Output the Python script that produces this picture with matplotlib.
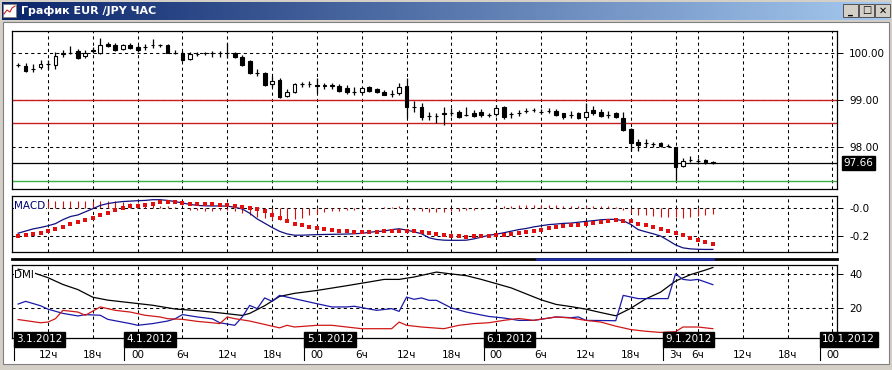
import numpy as np
import matplotlib
matplotlib.use("Agg")
import matplotlib.pyplot as plt
from matplotlib.colors import LinearSegmentedColormap
from matplotlib.patches import Rectangle
from matplotlib.transforms import blended_transform_factory

# ---- data (hourly candles, x = candle index, 0 = 3.1 12:00) ----
idx = np.arange(-4, 90)
opens = [99.75, 99.72, 99.67, 99.70, 99.76, 99.75, 99.98, 100.00, 100.05, 99.94,
         100.05, 99.99, 100.19, 100.17, 100.08, 100.17, 100.12, 100.12, 100.17, 100.17,
         100.17, 100.01, 100.01, 99.87, 99.98, 99.99, 99.99, 99.99, 99.99, 100.01,
         99.92, 99.82, 99.58, 99.58, 99.34, 99.43, 99.09, 99.18, 99.34, 99.34,
         99.32, 99.30, 99.31, 99.30, 99.25, 99.18, 99.16, 99.27, 99.23, 99.18,
         99.12, 99.14, 99.30, 98.86, 98.86, 98.66, 98.65, 98.70, 98.73, 98.75,
         98.68, 98.73, 98.75, 98.68, 98.70, 98.86, 98.70, 98.72, 98.77, 98.78,
         98.75, 98.76, 98.77, 98.72, 98.68, 98.72, 98.63, 98.79, 98.75, 98.68,
         98.72, 98.61, 98.38, 98.11, 98.08, 98.06, 98.08, 98.02, 98.01, 97.60,
         97.72, 97.71, 97.72, 97.68]
highs = [99.78, 99.78, 99.77, 99.85, 99.85, 100.03, 100.06, 100.15, 100.08, 100.06,
         100.12, 100.31, 100.24, 100.21, 100.20, 100.22, 100.17, 100.20, 100.29, 100.20,
         100.19, 100.06, 100.05, 100.03, 100.03, 100.03, 100.05, 100.05, 100.21, 100.03,
         99.96, 99.85, 99.67, 99.60, 99.50, 99.46, 99.23, 99.37, 99.39, 99.41,
         99.46, 99.37, 99.37, 99.35, 99.32, 99.27, 99.28, 99.30, 99.26, 99.21,
         99.21, 99.36, 99.46, 98.97, 98.94, 98.75, 98.73, 98.86, 98.82, 98.79,
         98.86, 98.79, 98.80, 98.73, 98.89, 98.87, 98.75, 98.79, 98.82, 98.83,
         98.80, 98.82, 98.80, 98.73, 98.77, 98.75, 98.93, 98.87, 98.80, 98.77,
         98.75, 98.75, 98.40, 98.16, 98.16, 98.11, 98.11, 98.06, 98.01, 97.76,
         97.81, 97.76, 97.74, 97.71]
lows = [99.71, 99.60, 99.60, 99.67, 99.67, 99.65, 99.91, 99.98, 99.87, 99.89,
        99.99, 99.98, 100.12, 100.05, 100.06, 100.08, 100.03, 100.06, 100.10, 100.12,
        99.99, 99.98, 99.84, 99.85, 99.94, 99.96, 99.92, 99.92, 99.89, 99.89,
        99.72, 99.55, 99.51, 99.30, 99.28, 99.05, 99.06, 99.14, 99.28, 99.27,
        99.14, 99.23, 99.23, 99.18, 99.13, 99.11, 99.13, 99.16, 99.14, 99.10,
        99.07, 99.11, 98.61, 98.75, 98.57, 98.57, 98.50, 98.47, 98.65, 98.61,
        98.65, 98.63, 98.63, 98.64, 98.66, 98.60, 98.61, 98.65, 98.72, 98.74,
        98.70, 98.72, 98.66, 98.59, 98.61, 98.59, 98.61, 98.68, 98.64, 98.61,
        98.61, 98.33, 97.92, 97.92, 98.00, 98.01, 98.00, 98.00, 97.30, 97.57,
        97.68, 97.66, 97.64, 97.64]
closes = [99.74, 99.62, 99.67, 99.76, 99.77, 99.94, 99.99, 100.01, 99.89, 100.01,
          100.06, 100.17, 100.14, 100.06, 100.17, 100.10, 100.06, 100.12, 100.17, 100.17,
          100.01, 100.01, 99.85, 99.98, 99.98, 99.99, 99.99, 99.99, 99.99, 99.91,
          99.75, 99.57, 99.58, 99.32, 99.41, 99.07, 99.18, 99.34, 99.34, 99.34,
          99.30, 99.31, 99.30, 99.19, 99.16, 99.18, 99.25, 99.20, 99.16, 99.11,
          99.13, 99.28, 98.86, 98.86, 98.63, 98.66, 98.65, 98.72, 98.73, 98.63,
          98.68, 98.66, 98.68, 98.68, 98.82, 98.63, 98.70, 98.72, 98.77, 98.78,
          98.75, 98.76, 98.68, 98.63, 98.68, 98.61, 98.75, 98.72, 98.66, 98.68,
          98.63, 98.36, 98.09, 98.04, 98.08, 98.06, 98.02, 98.02, 97.57, 97.71,
          97.72, 97.71, 97.65, 97.66]
last_price = 97.66
red_levels = [99.0, 98.5]
green_level = 97.28

macd_line = [-0.180, -0.165, -0.150, -0.140, -0.128, -0.113, -0.085, -0.063, -0.052, -0.030,
             -0.008, 0.015, 0.028, 0.036, 0.042, 0.045, 0.048, 0.050, 0.055, 0.055,
             0.050, 0.042, 0.032, 0.022, 0.015, 0.012, 0.011, 0.011, 0.010, 0.002,
             -0.010, -0.040, -0.080, -0.110, -0.140, -0.167, -0.185, -0.194, -0.194, -0.192,
             -0.190, -0.189, -0.188, -0.187, -0.186, -0.184, -0.181, -0.174, -0.168, -0.165,
             -0.155, -0.149, -0.158, -0.170, -0.184, -0.212, -0.224, -0.229, -0.230, -0.230,
             -0.229, -0.220, -0.208, -0.195, -0.187, -0.177, -0.166, -0.155, -0.147, -0.136,
             -0.128, -0.120, -0.116, -0.111, -0.109, -0.103, -0.097, -0.092, -0.086, -0.083,
             -0.083, -0.093, -0.118, -0.155, -0.170, -0.184, -0.200, -0.230, -0.262, -0.283,
             -0.290, -0.293, -0.294, -0.294]
macd_signal = [-0.202, -0.195, -0.188, -0.179, -0.167, -0.153, -0.139, -0.118, -0.102, -0.090,
               -0.074, -0.055, -0.036, -0.020, -0.004, 0.008, 0.011, 0.020, 0.027, 0.036,
               0.039, 0.039, 0.032, 0.027, 0.027, 0.027, 0.022, 0.020, 0.015, 0.011,
               0.004, -0.002, -0.008, -0.027, -0.050, -0.071, -0.097, -0.113, -0.125, -0.137,
               -0.144, -0.153, -0.160, -0.165, -0.167, -0.170, -0.172, -0.171, -0.170, -0.168,
               -0.166, -0.163, -0.164, -0.168, -0.172, -0.181, -0.188, -0.195, -0.200, -0.202,
               -0.207, -0.202, -0.200, -0.197, -0.195, -0.191, -0.186, -0.181, -0.172, -0.167,
               -0.160, -0.144, -0.137, -0.132, -0.125, -0.120, -0.116, -0.109, -0.102, -0.097,
               -0.090, -0.092, -0.097, -0.113, -0.125, -0.137, -0.149, -0.167, -0.181, -0.195,
               -0.212, -0.230, -0.242, -0.254]
macd_hist = [0.030, 0.030, 0.035, 0.040, 0.045, 0.045, 0.047, 0.047, 0.047, 0.047,
             0.047, 0.047, 0.047, 0.045, 0.040, 0.035, 0.030, 0.022, 0.018, 0.014,
             0.010, 0.005, 0.000, -0.020, -0.020, -0.022, -0.022, -0.020, -0.020, -0.025,
             -0.040, -0.055, -0.065, -0.075, -0.085, -0.090, -0.090, -0.080, -0.070, -0.055,
             -0.045, -0.030, -0.025, -0.025, -0.020, -0.020, -0.012, -0.008, -0.005, 0.004,
             0.006, 0.010, -0.012, -0.020, -0.025, -0.030, -0.030, -0.028, -0.025, -0.025,
             -0.020, -0.015, -0.010, -0.004, 0.004, 0.010, 0.012, 0.015, 0.015, 0.018,
             0.018, 0.016, 0.016, 0.014, 0.014, 0.012, 0.012, 0.012, 0.010, 0.008,
             0.006, -0.020, -0.035, -0.050, -0.052, -0.056, -0.063, -0.063, -0.063, -0.075,
             -0.063, -0.056, -0.051, -0.047]

adx_x = [-4, -2, 0, 2, 4, 6, 8, 11, 14, 17, 20, 23, 26, 27, 29, 31, 33, 36, 40, 43, 45, 47,
         49, 52, 54, 56, 58, 60, 62, 64, 66, 68, 70, 72, 74, 76, 78, 80, 82, 84, 86, 88, 89]
adx = [43.0, 41.0, 38.0, 34.0, 31.0, 26.5, 24.8, 23.3, 21.8, 19.6, 18.6, 17.3, 15.8, 17.0,
       21.5, 27.0, 28.8, 30.5, 33.3, 35.5, 37.0, 37.0, 38.4, 41.3, 40.2, 39.2, 37.0, 34.5,
       32.0, 28.5, 25.0, 22.3, 21.0, 19.5, 17.5, 15.6, 20.0, 25.5, 29.5, 36.0, 39.8, 42.5, 44.0]
pdi_x = [-4, -3, -1, 0, 2, 4, 5, 7, 8, 11, 12, 14, 16, 17, 18, 20, 22, 23, 25, 26, 27, 28,
         29, 30, 31, 32, 36, 38, 40, 41, 44, 46, 47, 48, 49, 50, 51, 52, 54, 56, 59, 61, 63,
         65, 68, 70, 71, 72, 76, 77, 79, 81, 83, 84, 85, 86, 87, 89]
pdi = [22.5, 24.1, 21.5, 19.5, 17.0, 15.5, 16.3, 15.9, 13.5, 11.0, 10.0, 11.0, 12.5, 13.8,
       16.3, 14.9, 13.8, 11.5, 10.0, 14.9, 21.7, 19.8, 26.1, 24.1, 27.6, 26.6, 22.7, 20.8,
       20.8, 21.2, 18.8, 19.8, 18.2, 26.6, 25.3, 26.1, 24.7, 24.7, 20.2, 17.8, 15.2, 14.3,
       12.9, 12.9, 14.9, 14.5, 14.9, 12.9, 12.7, 27.6, 25.7, 25.7, 25.7, 40.2, 37.0, 36.5,
       37.0, 33.9]
mdi_x = [-4, -1, 0, 1, 2, 4, 5, 7, 9, 11, 13, 15, 16, 18, 20, 22, 23, 24, 25, 27, 29, 31,
         32, 33, 36, 38, 40, 42, 46, 47, 48, 50, 53, 55, 57, 59, 61, 63, 65, 68, 70, 72, 74,
         76, 78, 80, 82, 84, 85, 87, 89]
mdi = [13.4, 11.5, 11.9, 13.9, 18.8, 17.8, 15.9, 20.8, 18.8, 17.8, 15.9, 14.9, 13.9, 13.5,
       12.3, 11.5, 11.0, 14.9, 13.9, 12.5, 10.5, 8.5, 10.0, 9.0, 10.0, 10.0, 9.0, 8.0, 8.0,
       11.9, 10.0, 9.0, 8.0, 10.0, 11.0, 11.5, 12.9, 14.0, 12.9, 14.9, 14.3, 12.9, 11.9, 9.5,
       7.5, 6.5, 5.8, 6.2, 9.0, 9.0, 8.0]

grid_x = [0, 6, 12, 18, 24, 30, 36, 42, 48, 54, 60, 66, 72, 78, 84, 87, 93, 99, 105]
time_labels = ['12ч', '18ч', '00', '6ч', '12ч', '18ч', '00', '6ч', '12ч', '18ч',
               '00', '6ч', '12ч', '18ч', '3ч', '6ч', '12ч', '18ч', '00']
day_labels = ['3.1.2012', '4.1.2012', '5.1.2012', '6.1.2012', '9.1.2012', '10.1.2012']
day_x = [-4.6, 10.2, 34.3, 58.3, 82.3, 103.3]

price_ticks = [100.0, 99.0, 98.0]
macd_ticks = [0.0, -0.2]
dmi_ticks = [40, 20]

# ---- figure in pixel units ----
W, H = 892, 370
fig = plt.figure(figsize=(W / 100, H / 100), dpi=100)
fig.patch.set_facecolor('#d4d0c8')
plt.rcParams['font.family'] = ['DejaVu Sans']
DASH = (0, (3, 3))

bg = fig.add_axes([0, 0, 1, 1])
bg.axis('off')

# title bar
grad = np.linspace(0, 1, 256)[None, :]
tb_cmap = LinearSegmentedColormap.from_list('tb', ['#0a246a', '#a6caf0'])
bg.imshow(grad, cmap=tb_cmap, extent=(2, 890, 20, 2), aspect='auto', zorder=1)
bg.add_patch(Rectangle((3, 4), 13, 13, facecolor='white', edgecolor='#808080', lw=0.6, zorder=2))
bg.plot([4, 7, 10, 12, 15], [14, 10, 12, 8, 6], color='#d02020', lw=0.8, zorder=3)
bg.text(21, 11, 'График EUR /JPY ЧАС', color='white', fontweight='bold',
        fontsize=8, va='center', ha='left', zorder=3)
for bx, glyph in zip([843, 859, 875], ['_', '□', '✕']):
    bg.add_patch(Rectangle((bx, 4), 15, 13, facecolor='#d4d0c8', edgecolor='#404040', lw=0.6, zorder=2))
    bg.text(bx + 7.5, 10.5, glyph, fontsize=7, fontweight='bold', ha='center', va='center', zorder=3)

# client area
bg.add_patch(Rectangle((3, 22), 886, 342, facecolor='white', edgecolor='#808080', lw=0.8, zorder=1))
bg.plot([12, 836.5], [258.5, 258.5], color='black', lw=2.0, zorder=2)
bg.plot([537, 713], [258.5, 258.5], color='#1a2a9a', lw=2.0, zorder=3)
bg.set_xlim(0, W)
bg.set_ylim(H, 0)

XL = (-4.82, 105.55)


def px_axes(x0, y0, x1, y1):
    ax = fig.add_axes([x0 / W, 1 - y1 / H, (x1 - x0) / W, (y1 - y0) / H])
    ax.set_xlim(*XL)
    ax.set_xticks([])
    for s in ax.spines.values():
        s.set_linewidth(0.9)
    ax.yaxis.tick_right()
    ax.tick_params(axis='y', length=4, width=0.7, pad=5, labelsize=7.5)
    for gx in grid_x:
        ax.axvline(gx, color='black', lw=0.75, ls=DASH, zorder=1)
    return ax


ax1 = px_axes(12, 31, 836.5, 189)
ax2 = px_axes(12, 196, 836.5, 252)
ax3 = px_axes(12, 265, 836.5, 338)

# ---- price panel ----
ax1.set_ylim(97.106, 100.468)
ax1.set_yticks(price_ticks)
ax1.set_yticklabels([f'{v:.2f}' for v in price_ticks])
for v in price_ticks:
    ax1.axhline(v, color='black', lw=0.75, ls=DASH, zorder=1)
for v in red_levels:
    ax1.axhline(v, color='#c81e1e', lw=1.0, zorder=2)
ax1.axhline(last_price, color='black', lw=0.9, zorder=2)
ax1.axhline(green_level, color='#3cb043', lw=1.0, zorder=2)

o = np.array(opens); c = np.array(closes)
ax1.vlines(idx, lows, highs, color='black', lw=0.9, zorder=4)
up = c >= o
ax1.bar(idx[up], (c - o)[up], bottom=o[up], width=0.5, color='white',
        edgecolor='black', lw=0.8, zorder=5)
ax1.bar(idx[~up], (o - c)[~up], bottom=c[~up], width=0.5, color='black',
        edgecolor='black', lw=0.8, zorder=5)
ax1.text(1.008, last_price, f'{last_price:.2f}', transform=blended_transform_factory(ax1.transAxes, ax1.transData),
         color='white', fontsize=7.5, va='center', ha='left',
         bbox=dict(boxstyle='square,pad=0.15', facecolor='black', edgecolor='black'), clip_on=False)

# ---- MACD panel ----
ax2.set_ylim(-0.312, 0.081)
ax2.set_yticks(macd_ticks)
ax2.set_yticklabels(['-0.0', '-0.2'])
for v in macd_ticks:
    ax2.axhline(v, color='black', lw=0.75, ls=DASH, zorder=1)
ax2.vlines(idx, 0, macd_hist, color='#d01010', lw=0.8, zorder=3)
ax2.plot(idx, macd_line, color='#101080', lw=0.9, zorder=4)
ax2.scatter(idx, macd_signal, marker='s', s=5, color='#e01010', linewidths=0, zorder=5)
ax2.text(0.003, 0.83, 'MACD', transform=ax2.transAxes, fontsize=7.5, color='#000070',
         va='center', ha='left', zorder=6,
         bbox=dict(boxstyle='square,pad=0.05', facecolor='white', edgecolor='none'))

# ---- DMI panel ----
ax3.set_ylim(2.53, 45.47)
ax3.set_yticks(dmi_ticks)
for v in dmi_ticks:
    ax3.axhline(v, color='black', lw=0.75, ls=DASH, zorder=1)
ax3.plot(adx_x, adx, color='black', lw=0.9, zorder=3)
ax3.plot(pdi_x, pdi, color='#1a1aa8', lw=0.9, zorder=4)
ax3.plot(mdi_x, mdi, color='#d01818', lw=0.9, zorder=4)
ax3.text(0.003, 0.86, 'DMI', transform=ax3.transAxes, fontsize=7.5, color='black',
         va='center', ha='left', zorder=6,
         bbox=dict(boxstyle='square,pad=0.05', facecolor='white', edgecolor='none'))

# ---- time axis under the DMI panel ----
tr = blended_transform_factory(ax3.transData, bg.transData)
for gx, lab in zip(grid_x, time_labels):
    ax3.text(gx, 355.5, lab, transform=tr, fontsize=7.5, ha='center', va='center', clip_on=False)
for dx, lab in zip(day_x, day_labels):
    ax3.plot([dx, dx], [346, 360], transform=tr, color='black', lw=0.8, clip_on=False)
    ax3.text(dx + 0.35, 339.5, lab, transform=tr, fontsize=7.5, color='white', ha='left', va='center',
             clip_on=False, zorder=8,
             bbox=dict(boxstyle='square,pad=0.25', facecolor='black', edgecolor='black'))

fig.savefig('out.png', dpi=100, facecolor=fig.get_facecolor())
